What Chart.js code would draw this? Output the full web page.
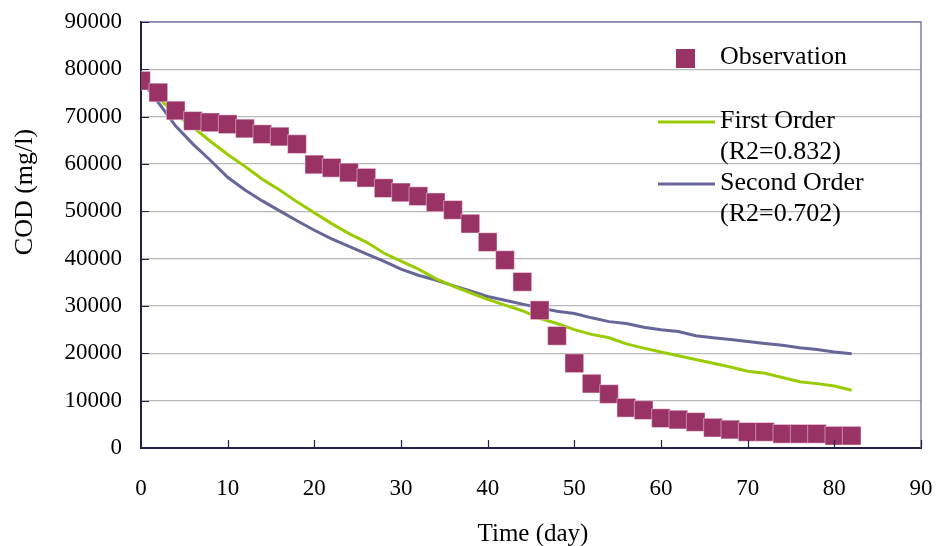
<!DOCTYPE html>
<html>
<head>
<meta charset="utf-8">
<script src="https://cdn.jsdelivr.net/npm/chart.js@4/dist/chart.umd.min.js"></script>
<style>
  html, body { margin: 0; padding: 0; background: #ffffff; }
  #wrap { width: 936px; height: 546px; }
</style>
</head>
<body>
<div id="wrap"><canvas id="c" width="936" height="546"></canvas></div>
<script>
// ---- data ----
const days = [0,2,4,6,8,10,12,14,16,18,20,22,24,26,28,30,32,34,36,38,40,42,44,46,48,50,52,54,56,58,60,62,64,66,68,70,72,74,76,78,80,82];
const observation = [77600,75100,71300,69100,68800,68400,67500,66300,65800,64200,59900,59200,58200,57100,54900,54000,53200,51900,50300,47400,43500,39700,35100,29100,23700,17900,13600,11400,8500,8000,6300,6000,5500,4300,3900,3400,3400,3000,3000,3000,2600,2600];
const firstOrder = [77800,74000,70500,67800,64800,62000,59500,56800,54500,52000,49700,47400,45300,43500,41200,39500,37800,35800,34200,32800,31400,30200,29000,27400,26300,25000,24000,23300,22000,21100,20300,19500,18700,17900,17100,16200,15800,14900,14000,13600,13100,12200];
const secondOrder = [77800,73000,68000,64200,60800,57200,54500,52200,50100,48000,46000,44200,42600,41000,39500,37800,36500,35500,34300,33200,32000,31200,30400,29600,28900,28400,27500,26700,26300,25500,25000,24600,23700,23300,22900,22500,22100,21700,21200,20800,20300,19900];
const seriesNames = ["Observation", "First Order", "Second Order"];
const r2Labels = ["", "(R2=0.832)", "(R2=0.702)"];
const xTitle = "Time (day)";
const yTitle = "COD (mg/l)";

const FONT = "'Liberation Serif', 'Times New Roman', serif";
const C_OBS = "#993366", C_FIRST = "#99cc00", C_SECOND = "#666699";

function pts(ys) { return days.map((d, i) => ({ x: d, y: ys[i] })); }

const decor = {
  id: 'decor',
  afterDraw(chart) {
    const ctx = chart.ctx, a = chart.chartArea;
    const xs = chart.scales.x, ys = chart.scales.y;
    ctx.save();
    // top & right frame
    ctx.strokeStyle = "#7c7cac";
    ctx.lineWidth = 1.5;
    ctx.beginPath();
    ctx.moveTo(a.left, a.top); ctx.lineTo(a.right, a.top); ctx.lineTo(a.right, a.bottom);
    ctx.stroke();
    // inward tick marks
    ctx.strokeStyle = "#222244";
    ctx.lineWidth = 1.2;
    ctx.beginPath();
    for (let v = 10000; v <= 90000; v += 10000) {
      const y = Math.round(ys.getPixelForValue(v)) + 0.5;
      ctx.moveTo(a.left, y); ctx.lineTo(a.left + 8, y);
    }
    for (let v = 10; v <= 90; v += 10) {
      const x = Math.round(xs.getPixelForValue(v)) + 0.5;
      ctx.moveTo(x, a.bottom); ctx.lineTo(x, a.bottom - 8);
    }
    ctx.stroke();
    // axis titles
    ctx.fillStyle = "#000";
    ctx.font = "25px " + FONT;
    ctx.textAlign = "center";
    ctx.textBaseline = "middle";
    ctx.fillText(xTitle, 533, 534);
    ctx.save();
    ctx.translate(25, 192);
    ctx.rotate(-Math.PI / 2);
    ctx.font = "26px " + FONT;
    ctx.fillText(yTitle, 0, 0);
    ctx.restore();
    // legend
    ctx.font = "26px " + FONT;
    ctx.textAlign = "left";
    ctx.fillStyle = C_OBS;
    ctx.fillRect(676, 49, 19, 19);
    ctx.fillStyle = "#000";
    ctx.fillText(seriesNames[0], 720, 57);
    ctx.lineWidth = 3;
    ctx.strokeStyle = C_FIRST;
    ctx.beginPath(); ctx.moveTo(658, 122); ctx.lineTo(715, 122); ctx.stroke();
    ctx.fillText(seriesNames[1], 720, 121);
    ctx.fillText(r2Labels[1], 720, 152);
    ctx.strokeStyle = C_SECOND;
    ctx.beginPath(); ctx.moveTo(658, 184); ctx.lineTo(715, 184); ctx.stroke();
    ctx.fillText(seriesNames[2], 720, 183);
    ctx.fillText(r2Labels[2], 720, 214);
    ctx.restore();
  }
};

new Chart(document.getElementById('c'), {
  type: 'scatter',
  data: {
    datasets: [
      {
        label: seriesNames[0], data: pts(observation), order: 0,
        showLine: false, pointStyle: 'rect', pointRadius: 13.2, pointHoverRadius: 13.2,
        backgroundColor: C_OBS, borderColor: "rgba(255,230,240,0.6)", borderWidth: 0.8
      },
      {
        label: seriesNames[1], data: pts(firstOrder), order: 1,
        showLine: true, pointRadius: 0, borderColor: C_FIRST, borderWidth: 3, backgroundColor: C_FIRST, tension: 0
      },
      {
        label: seriesNames[2], data: pts(secondOrder), order: 2,
        showLine: true, pointRadius: 0, borderColor: C_SECOND, borderWidth: 3, backgroundColor: C_SECOND, tension: 0
      }
    ]
  },
  options: {
    responsive: false,
    animation: false,
    devicePixelRatio: 1,
    layout: { padding: { left: 0, top: 22, right: 15, bottom: 0 } },
    plugins: { legend: { display: false }, tooltip: { enabled: false } },
    scales: {
      x: {
        type: 'linear', min: 0, max: 90,
        afterFit(s) { s.height = 98; s.paddingLeft = 0; s.paddingRight = 0; s.paddingTop = 0; s.paddingBottom = 0; },
        ticks: { stepSize: 10, color: '#000', padding: 27, font: { family: FONT, size: 23 } },
        grid: { display: false, drawTicks: false },
        border: { display: true, color: '#222244', width: 2 }
      },
      y: {
        min: 0, max: 90000,
        afterFit(s) { s.width = 141; s.paddingLeft = 0; s.paddingRight = 0; s.paddingTop = 0; s.paddingBottom = 0; },
        ticks: { stepSize: 10000, color: '#000', padding: 19, font: { family: FONT, size: 23 },
                 callback: (v) => String(v) },
        grid: { color: '#b8b8b8', lineWidth: 1.3, drawTicks: false },
        border: { display: true, color: '#222244', width: 2 }
      }
    }
  },
  plugins: [decor]
});
</script>
</body>
</html>
